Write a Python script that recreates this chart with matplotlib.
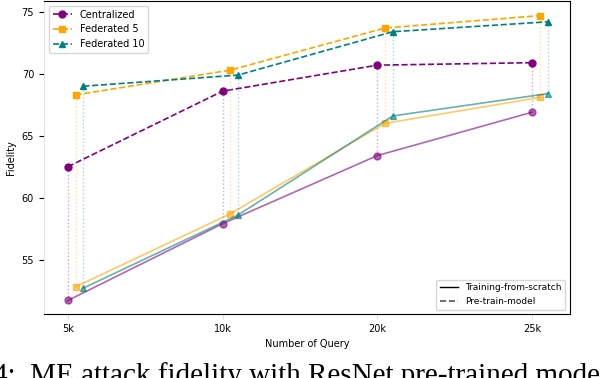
import numpy as np
import matplotlib.pyplot as plt
from matplotlib.lines import Line2D

# query budgets
queries = ['5k', '10k', '20k', '25k']

# fidelity (%) - pre-trained model
central_pre = [62.5, 68.6, 70.7, 70.9]
fed5_pre = [68.3, 70.3, 73.7, 74.7]
fed10_pre = [69.0, 69.9, 73.4, 74.2]

# fidelity (%) - training from scratch
central_scr = [51.7, 57.9, 63.4, 66.9]
fed5_scr = [52.8, 58.7, 66.0, 68.1]
fed10_scr = [52.7, 58.6, 66.6, 68.4]

names = ['Centralized', 'Federated 5', 'Federated 10']
colors = ['purple', 'orange', 'teal']
markers = ['o', 's', '^']
pre = [central_pre, fed5_pre, fed10_pre]
scr = [central_scr, fed5_scr, fed10_scr]

fig = plt.figure(figsize=(6, 3.78), dpi=100)
ax = fig.add_axes([0.073, 0.169, 0.877, 0.829])

x = np.arange(len(queries))
for i in range(3):
    xs = x + i * 0.05
    ax.plot(xs, pre[i], ls='--', color=colors[i], marker=markers[i],
            markersize=5, lw=1.2, label=names[i])
    ax.plot(xs, scr[i], ls='-', color=colors[i], marker=markers[i],
            markersize=5, lw=1.2, alpha=0.6)
    # dotted link between pre-trained and scratch result
    for xx, a, b in zip(xs, pre[i], scr[i]):
        ax.plot([xx, xx], [a, b], ls=':', color=colors[i], lw=1, alpha=0.35)

ax.set_xticks(x)
ax.set_xticklabels(queries)
ax.set_xlim(-0.155, 3.245)
ax.set_ylim(50.6, 75.9)
ax.set_yticks([55, 60, 65, 70, 75])
ax.tick_params(labelsize=7)
ax.tick_params(axis='x', color='#dddddd')
ax.spines['left'].set_color('#e0e0e0')
ax.set_xlabel('Number of Query', fontsize=7)
ax.set_ylabel('Fidelity', fontsize=7)

leg1 = ax.legend(loc='upper left', fontsize=7)
ax.add_artist(leg1)
handles = [Line2D([], [], color='black', lw=1, ls='-'),
           Line2D([], [], color='#555555', lw=1.2, ls='--')]
ax.legend(handles, ['Training-from-scratch', 'Pre-train-model'],
          loc='lower right', fontsize=6.5)

# caption strip cut off at the bottom of the picture
fig.text(-0.012, -0.012, '4:  ME attack fidelity with ResNet pre-trained model',
         fontsize=21, family='Liberation Serif', va='baseline', ha='left')

fig.savefig('out.png', dpi=100)
